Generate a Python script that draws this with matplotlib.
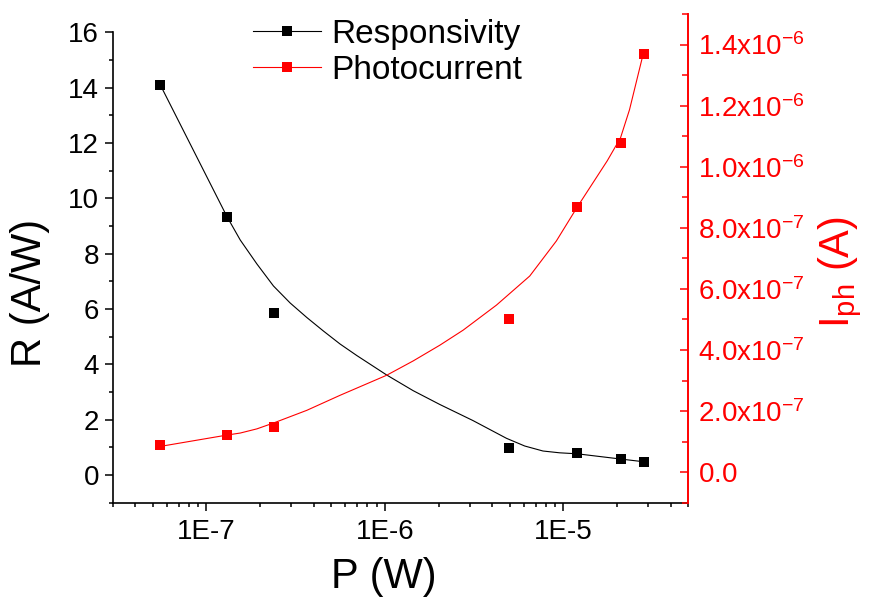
import matplotlib
matplotlib.use("Agg")
import matplotlib.pyplot as plt
from matplotlib.lines import Line2D
from matplotlib.ticker import MultipleLocator, NullFormatter

plt.rcParams['font.family'] = ['Liberation Sans', 'DejaVu Sans']
plt.rcParams['mathtext.fontset'] = 'custom'
plt.rcParams['mathtext.rm'] = 'Liberation Sans'
plt.rcParams['mathtext.it'] = 'Liberation Sans'

# measured points
power = [5.53e-8, 1.31e-7, 2.40e-7, 4.96e-6, 1.20e-5, 2.10e-5, 2.82e-5]
resp = [14.09, 9.34, 5.87, 0.96, 0.78, 0.58, 0.48]
photo = [8.8e-8, 1.21e-7, 1.48e-7, 5.0e-7, 8.69e-7, 1.077e-6, 1.369e-6]

# smooth curves
resp_fit_p = [5.53e-8, 1.306e-7, 1.549e-7, 1.921e-7, 2.378e-7, 2.950e-7, 3.657e-7,
              4.529e-7, 5.616e-7, 6.964e-7, 1.025e-6, 1.443e-6, 2.035e-6, 3.114e-6,
              4.807e-6, 6.082e-6, 7.700e-6, 9.548e-6, 1.199e-5, 1.598e-5, 2.094e-5,
              2.805e-5]
resp_fit = [14.09, 9.335, 8.493, 7.626, 6.831, 6.216, 5.692,
            5.204, 4.734, 4.319, 3.614, 3.047, 2.548, 1.970,
            1.326, 1.048, 0.867, 0.802, 0.766, 0.669, 0.578,
            0.481]

photo_fit_p = [5.53e-8, 1.306e-7, 1.549e-7, 1.921e-7, 2.378e-7, 3.657e-7, 5.616e-7,
               1.025e-6, 1.443e-6, 2.035e-6, 2.748e-6, 4.224e-6, 6.489e-6, 9.149e-6,
               1.199e-5, 1.764e-5, 2.094e-5, 2.351e-5, 2.805e-5]
photo_fit = [8.43e-8, 1.214e-7, 1.280e-7, 1.417e-7, 1.608e-7, 2.024e-7, 2.516e-7,
             3.173e-7, 3.642e-7, 4.157e-7, 4.649e-7, 5.469e-7, 6.421e-7, 7.569e-7,
             8.684e-7, 1.0194e-6, 1.0948e-6, 1.1867e-6, 1.3694e-6]

x_ticks = [1e-7, 1e-6, 1e-5]
x_labels = ["1E-7", "1E-6", "1E-5"]
r_ticks = [0, 2, 4, 6, 8, 10, 12, 14, 16]
i_ticks = [0, 2e-7, 4e-7, 6e-7, 8e-7, 1.0e-6, 1.2e-6, 1.4e-6]
i_labels = ["0.0", "2.0x10^{-7}", "4.0x10^{-7}", "6.0x10^{-7}", "8.0x10^{-7}",
            "1.0x10^{-6}", "1.2x10^{-6}", "1.4x10^{-6}"]

fig = plt.figure(figsize=(8.7, 5.97), dpi=100)
ax = fig.add_axes([0.1299, 0.158, 0.6609, 0.8185])
ax2 = ax.twinx()

ax.plot(resp_fit_p, resp_fit, color='black', lw=0.8)
ax.plot(power, resp, 's', color='black', ms=7, mew=0)
ax2.plot(photo_fit_p, photo_fit, color='red', lw=0.8)
ax2.plot(power, photo, 's', color='red', ms=7, mew=0)

ax.set_xscale('log')
ax.set_xlim(3e-8, 5e-5)
ax.set_ylim(-1, 16.66)
ax2.set_ylim(-1e-7, 1.5e-6)

ax.set_xticks(x_ticks)
ax.set_xticklabels(x_labels)
ax.xaxis.set_minor_formatter(NullFormatter())
ax.set_yticks(r_ticks)
ax.yaxis.set_minor_locator(MultipleLocator(1))
ax2.set_yticks(i_ticks)
ax2.set_yticklabels([r'$\mathregular{%s}$' % s for s in i_labels])
ax2.yaxis.set_minor_locator(MultipleLocator(1e-7))

for s in ['top', 'right']:
    ax.spines[s].set_visible(False)
for s in ['top', 'left', 'bottom']:
    ax2.spines[s].set_visible(False)
ax.spines['left'].set_bounds(-1, 16)
ax.spines['left'].set_linewidth(1.2)
ax.spines['bottom'].set_linewidth(1.2)
ax2.spines['right'].set_color('red')
ax2.spines['right'].set_linewidth(1.4)

ax.tick_params(axis='both', which='major', direction='out', length=6, width=1.1,
               labelsize=20, pad=4)
ax.tick_params(axis='x', which='major', pad=6)
ax.tick_params(axis='both', which='minor', direction='out', length=3, width=1.1)
ax2.tick_params(axis='y', which='major', direction='in', length=5.5, width=1.1,
                colors='red', labelsize=20, pad=7)
ax2.tick_params(axis='y', which='minor', direction='in', length=4, width=1.1, colors='red')

ax.set_xlabel('P (W)', fontsize=30)
ax.set_ylabel('R (A/W)', fontsize=30)
ax2.set_ylabel(r'I$_{\mathregular{ph}}$ (A)', fontsize=30, color='red')
ax.xaxis.set_label_coords(0.471, -0.112)
ax.yaxis.set_label_coords(-0.11, 0.43)
ax2.yaxis.set_label_coords(1.224, 0.472)

handles = [Line2D([], [], color='black', lw=0.8, marker='s', ms=7, mew=0),
           Line2D([], [], color='red', lw=0.8, marker='s', ms=7, mew=0)]
ax2.legend(handles, ['Responsivity', 'Photocurrent'], loc='upper left',
           bbox_to_anchor=(253 / 870, 1 - 19 / 597), bbox_transform=fig.transFigure,
           frameon=False, fontsize=24, handlelength=2.04, handletextpad=0.3,
           labelspacing=0.15, borderpad=0, borderaxespad=0)

fig.savefig('out.png', dpi=100)
